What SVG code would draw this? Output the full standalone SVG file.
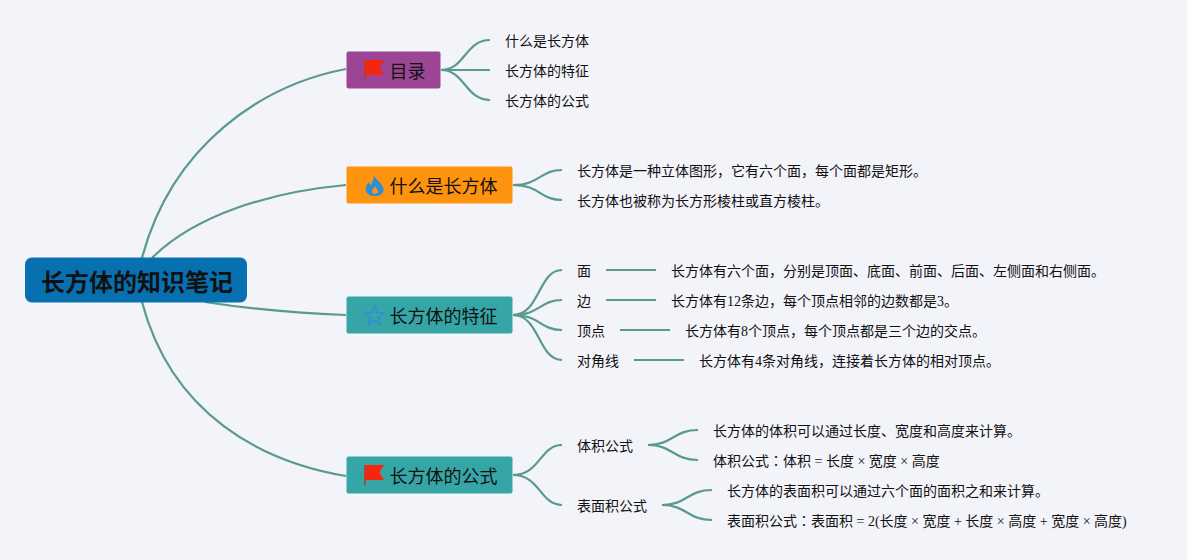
<svg xmlns="http://www.w3.org/2000/svg" width="1187" height="560" viewBox="0 0 1187 560">
<style>
text{font-family:"Liberation Serif","Noto Sans CJK SC",serif;fill:#111;font-size:14px}
.m{font-size:18px}
.r{font-size:24px;font-weight:700}
.j{font-family:"Noto Sans CJK JP",sans-serif}
.c path{fill:none;stroke:#5a9a8c;stroke-width:2.200;stroke-linecap:butt}
</style>
<defs>
<g id="flag"><path d="M0 20V0" stroke="#b5392a" stroke-width="1.500" fill="none"/><path d="M0 0H19L14.500 7.500L19 15H0Z" fill="#f5260f"/></g>
</defs>
<rect width="1187" height="560" fill="#f3f3fa"/>
<g class="c" id="connectors">
<path d="M142 258C172 145 262 85 346 69"/>
<path d="M152 258C195 215 270 192 346 185"/>
<path d="M205 302C250 309 300 313 346 315"/>
<path d="M142 302C172 415 262 462 346 476"/>
<path d="M441 70C465 70 465 40 490 40"/>
<path d="M441 70H490"/>
<path d="M441 70C465 70 465 100 490 100"/>
<path d="M513 185C540 185 540 170 562 170"/>
<path d="M513 185C540 185 540 200 562 200"/>
<path d="M513 315C540 315 538 270 562 270"/>
<path d="M513 315C540 315 540 300 562 300"/>
<path d="M513 315C540 315 540 330 562 330"/>
<path d="M513 315C540 315 538 360 562 360"/>
<path d="M606 270H656"/>
<path d="M606 300H656"/>
<path d="M620 330H670"/>
<path d="M634 360H684"/>
<path d="M513 475C540 475 540 445 562 445"/>
<path d="M513 475C540 475 540 505 562 505"/>
<path d="M648 445C673 445 673 430 698 430"/>
<path d="M648 445C673 445 673 460 698 460"/>
<path d="M662 505C687 505 687 490 712 490"/>
<path d="M662 505C687 505 687 520 712 520"/>
</g>
<g id="root"><rect x="25" y="257.500" width="222" height="45" rx="7" fill="#0670b0"/><text class="r" x="41" y="291">长方体的知识笔记</text></g>
<g id="n-mulu"><rect x="346.500" y="51.500" width="94" height="37" rx="2" fill="#9c4594"/><use href="#flag" x="365" y="60"/><text class="m" x="389.500" y="78">目录</text></g>
<g id="n-what"><rect x="346.500" y="166.500" width="166" height="37" rx="2" fill="#fd930f"/><path fill-rule="evenodd" d="M374 175C375 179 378 180 381 184C384 188 384.500 191 382 193.500C380 195.500 377 196 375 196C372 196 369 195.500 367 193C364.500 190 366 185 369 182C369.500 183.500 370 184.500 371 185C372.500 182 373.500 179 374 175ZM375 186C374 188.500 371.500 190 372 192C372.500 193.500 374 194 375 194C377 194 378.500 192.500 378 190.500C377.500 189 376 188 375 186Z" fill="#2a8fd8"/><text class="m" x="389.500" y="192.500">什么是长方体</text></g>
<g id="n-feat"><rect x="346.500" y="296.500" width="166" height="37" rx="2" fill="#36a5a6"/><path d="M374.500 306L377 312.500L384 313L378.500 317.500L380.500 324.500L374.500 320.500L368.500 324.500L370.500 317.500L365 313L372 312.500Z" fill="none" stroke="#2a8fd8" stroke-width="1.500"/><text class="m" x="389.500" y="322.500">长方体的特征</text></g>
<g id="n-formula"><rect x="346.500" y="456.500" width="166" height="37" rx="2" fill="#36a5a6"/><use href="#flag" x="365" y="465"/><text class="m" x="389.500" y="482.500">长方体的公式</text></g>
<g id="leaves">
<text x="505" y="46">什么是长方体</text>
<text x="505" y="76">长方体的特征</text>
<text x="505" y="106">长方体的公式</text>
<text x="577" y="176">长方体是一种立体图形，它有六个面，每个面都是矩形。</text>
<text x="577" y="206">长方体也被称为长方形棱柱或直方棱柱。</text>
<text x="577" y="276">面</text>
<text x="577" y="306">边</text>
<text x="577" y="336">顶点</text>
<text x="577" y="366">对角线</text>
<text x="671" y="276">长方体有六个面，分别是顶面、底面、前面、后面、左侧面和右侧面。</text>
<text x="671" y="306">长方体有12条边，每个顶点相邻的边数都是3。</text>
<text x="685" y="336">长方体有8个顶点，每个顶点都是三个边的交点。</text>
<text x="699" y="366">长方体有4条对角线，连接着长方体的相对顶点。</text>
<text x="577" y="451">体积公式</text>
<text x="577" y="511">表面积公式</text>
<text x="713" y="436">长方体的体积可以通过长度、宽度和高度来计算。</text>
<text x="713" y="466">体积公式<tspan class="j">：</tspan>体积 = 长度 × 宽度 × 高度</text>
<text x="727" y="496">长方体的表面积可以通过六个面的面积之和来计算。</text>
<text x="727" y="526">表面积公式<tspan class="j">：</tspan>表面积 = 2(长度 × 宽度 + 长度 × 高度 + 宽度 × 高度)</text>
</g>
</svg>
